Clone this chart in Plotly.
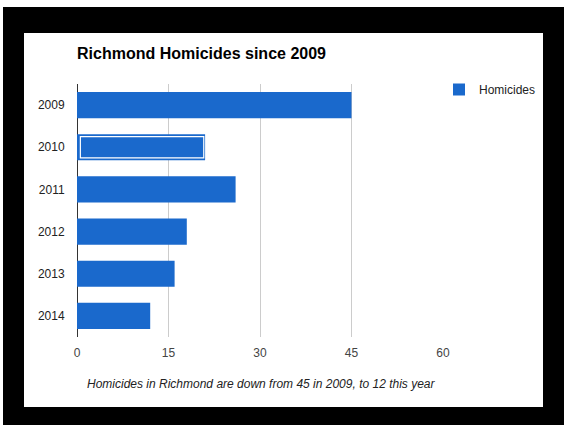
import plotly.graph_objects as go

years = ["2009", "2010", "2011", "2012", "2013", "2014"]
homicides = [45, 21, 26, 18, 16, 12]
x_ticks = [0, 15, 30, 45, 60]
highlight_year = "2010"

title_text = "Richmond Homicides since 2009"
caption_text = "Homicides in Richmond are down from 45 in 2009, to 12 this year"
series_name = "Homicides"

BLUE = "#1a69cc"
FONT = "Liberation Sans, Arial, sans-serif"

fig = go.Figure()
fig.add_trace(go.Bar(
    y=years, x=homicides, orientation="h", name=series_name,
    marker=dict(color=BLUE, line=dict(width=0)),
    width=0.62, showlegend=True, hoverinfo="x+y",
))

# selection highlight on the 2010 bar (inner white outline)
hi_val = homicides[years.index(highlight_year)]
inset = 0.55
fig.add_trace(go.Bar(
    y=[highlight_year], x=[hi_val - inset * 1.4], base=[inset],
    orientation="h", showlegend=False,
    marker=dict(color=BLUE, line=dict(color="white", width=1.2)),
    width=0.5, hoverinfo="skip",
))

W, H = 564, 425
L, R, T, B = 77, 121, 84, 88
pw, ph = W - L - R, H - T - B

def px_x(p):
    return (p - L) / pw

def px_y(p):
    return (H - B - p) / ph

shapes = [
    dict(type="rect", xref="paper", yref="paper", layer="below",
         x0=px_x(24), x1=px_x(543), y0=px_y(407), y1=px_y(33),
         fillcolor="white", line=dict(width=0)),
    dict(type="rect", xref="paper", yref="paper", layer="below",
         x0=px_x(-5), x1=px_x(570), y0=px_y(7), y1=px_y(-5),
         fillcolor="white", line=dict(width=0)),
    dict(type="rect", xref="paper", yref="paper", layer="below",
         x0=px_x(-5), x1=px_x(3), y0=px_y(430), y1=px_y(-5),
         fillcolor="white", line=dict(width=0)),
]

fig.update_layout(
    width=W, height=H,
    margin=dict(l=L, r=R, t=T, b=B, pad=0),
    paper_bgcolor="black",
    plot_bgcolor="rgba(0,0,0,0)",
    barmode="overlay",
    font=dict(family=FONT, size=12, color="#222222"),
    title=dict(text="<b>" + title_text + "</b>", xref="container", yref="container",
               x=L / W, xanchor="left", y=1 - 53 / H, yanchor="middle",
               font=dict(family=FONT, size=16, color="#000000")),
    legend=dict(x=px_x(439), y=px_y(75), xanchor="left", yanchor="top",
                bgcolor="rgba(0,0,0,0)", font=dict(size=12, color="#222222"),
                itemwidth=30, tracegroupgap=0),
    shapes=shapes,
    annotations=[dict(text="<i>" + caption_text + "</i>", xref="paper", yref="paper",
                      x=px_x(261), y=px_y(384), xanchor="center", yanchor="middle",
                      showarrow=False, font=dict(family=FONT, size=12, color="#222222"))],
    showlegend=True,
)
fig.update_xaxes(range=[0, 60], tickvals=x_ticks, ticktext=[str(v) for v in x_ticks],
                 showgrid=True, gridcolor="#cccccc", gridwidth=1,
                 zeroline=True, zerolinecolor="#333333", zerolinewidth=1,
                 ticks="outside", ticklen=5, tickcolor="rgba(0,0,0,0)",
                 tickfont=dict(size=12, color="#444444"), fixedrange=True)
fig.update_yaxes(categoryorder="array", categoryarray=years, autorange="reversed",
                 showgrid=False, zeroline=False, showline=False,
                 ticks="outside", ticklen=9, tickcolor="rgba(0,0,0,0)",
                 tickfont=dict(size=12, color="#222222"), fixedrange=True)

fig.write_html("out.html", config={"displayModeBar": False},
               post_script="document.body.style.margin='0';")
